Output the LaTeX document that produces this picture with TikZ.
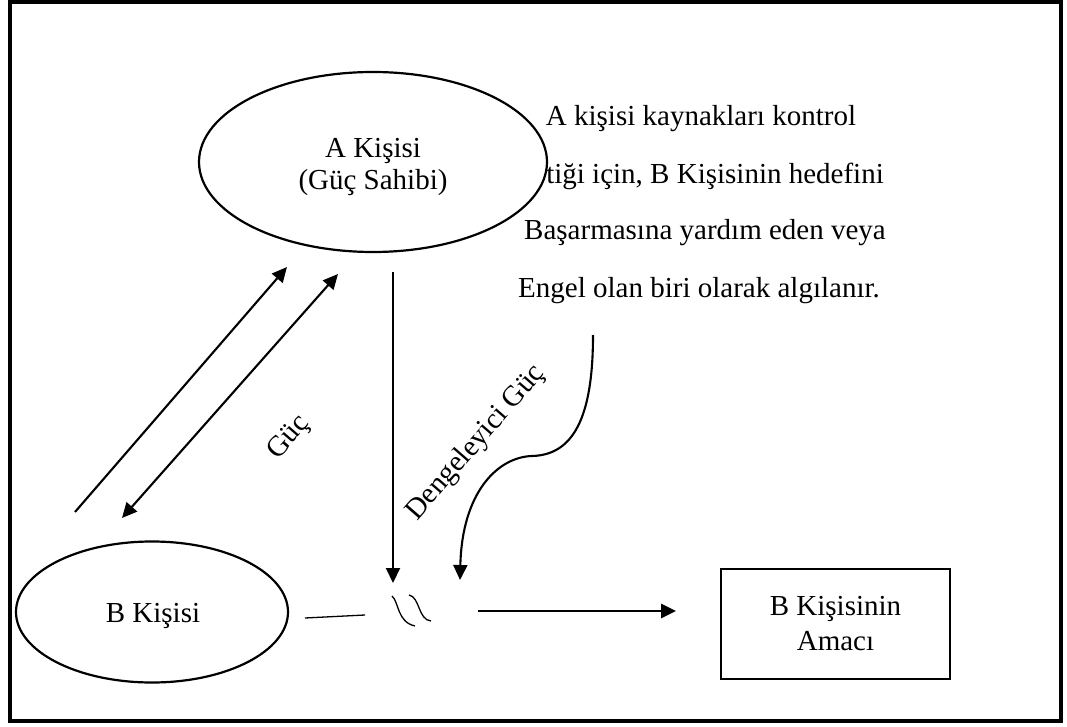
\documentclass[tikz,border=0pt]{standalone}
\usepackage{fontspec}
\setmainfont{Liberation Serif}
\usetikzlibrary{arrows.meta,shapes.geometric}
\begin{document}
\begin{tikzpicture}[x=1pt,y=-1pt,
  txt/.style={font=\fontsize{29}{32}\selectfont, inner sep=0pt},
  ell/.style={draw, ellipse, line width=2.2pt, fill=white, inner sep=0pt},
  tip/.style={-{Triangle[length=15pt,width=14pt]}},
  conn/.style={line width=2.1pt, tip},
  thin/.style={line width=1.3pt}]
\useasboundingbox (0,0) rectangle (1067,727);
% frame
\draw[line width=4.5pt] (10,1.5) rectangle (1061,721);

% explanatory text
\node[txt, anchor=base] (t1) at (701,126) {A kişisi kaynakları kontrol};
\node[txt, anchor=base east] (t2) at (884,184) {tiği için, B Kişisinin hedefini};
\node[txt, anchor=base] (t3) at (705,240) {Başarmasına yardım eden veya};
\node[txt, anchor=base] (t4) at (699,297) {Engel olan biri olarak algılanır.};

% nodes
\node[ell, minimum width=348pt, minimum height=180pt] (A) at (373,162) {};
\node[txt, align=center, font=\fontsize{29}{32}\selectfont] (Atxt) at (373,167) {A Kişisi\\(Güç Sahibi)};
\node[ell, minimum width=272pt, minimum height=141pt] (B) at (152,612) {};
\node[txt, anchor=base] (Btxt) at (153,622) {B Kişisi};
\node[draw, line width=2.4pt, minimum width=229pt, minimum height=110pt, inner sep=0pt,
      align=center, font=\fontsize{29}{35}\selectfont] (G) at (835.5,624) {B Kişisinin\\Amacı};

% coordinates
\coordinate (p1s) at (75,512);   \coordinate (p1e) at (287,267);
\coordinate (p2s) at (122,518);  \coordinate (p2e) at (338,274);
\coordinate (vs) at (393,272);   \coordinate (ve) at (393,583);
\coordinate (cs) at (593,335);   \coordinate (cm) at (532,456);  \coordinate (ce) at (460,580);
\coordinate (hs) at (478,611);   \coordinate (he) at (676,611);
\coordinate (ls) at (305,618);   \coordinate (le) at (365,615);
\coordinate (w1s) at (392,596);  \coordinate (w1e) at (415,626);
\coordinate (w2s) at (409,595);  \coordinate (w2e) at (431,621);

% connectors
\draw[conn] (p1s) -- (p1e);
\draw[line width=2.1pt, {Triangle[length=15pt,width=14pt]}-{Triangle[length=15pt,width=14pt]}] (p2s) -- (p2e);
\draw[conn] (vs) -- (ve);
\draw[conn] (cs) .. controls (593,420) and (572,455) .. (cm) .. controls (498,457) and (462,492) .. (ce);
\draw[conn, line width=2.6pt] (hs) -- (he);
\draw[thin] (ls) -- (le);
\draw[thin] (w1s) .. controls (399,602) and (397,622) .. (w1e);
\draw[thin] (w2s) .. controls (420,597) and (418,620) .. (w2e);

% labels
\node[txt, rotate=49] (guc) at (289,438) {Güç};
\node[txt, rotate=49] (dg) at (476,443) {Dengeleyici Güç};
\end{tikzpicture}
\end{document}
